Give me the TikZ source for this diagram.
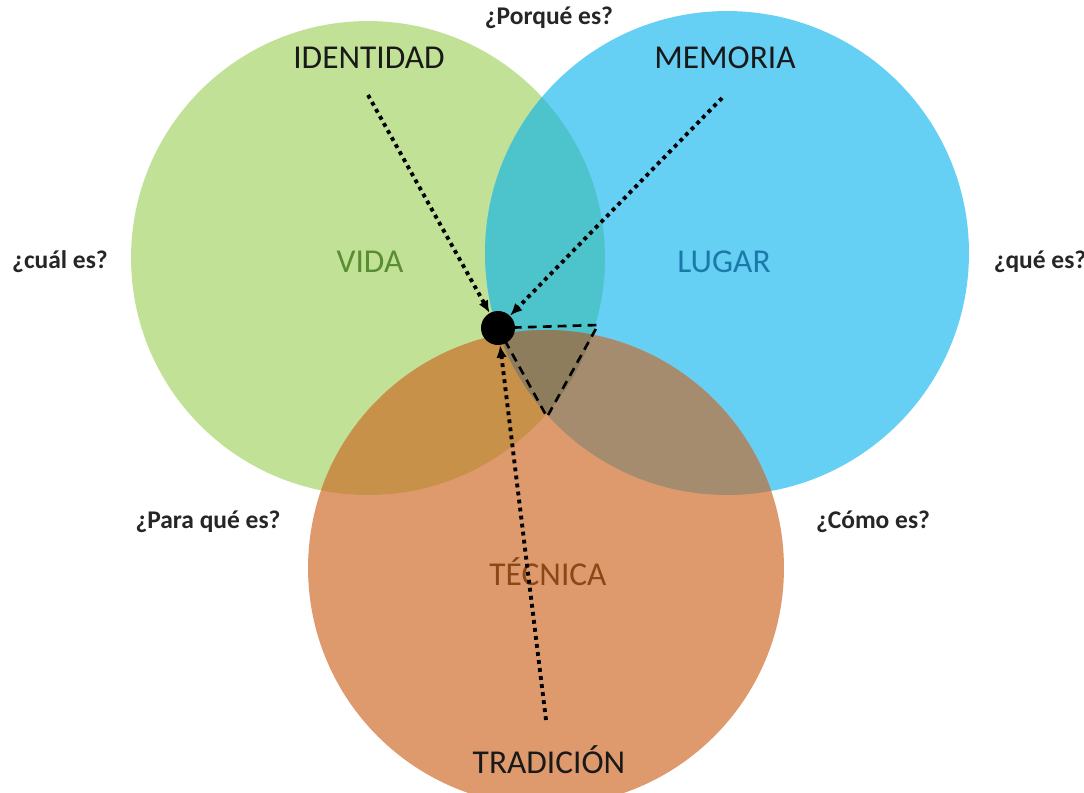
\documentclass[tikz,border=0pt]{standalone}
\usepackage{fontspec}
\setmainfont{Carlito}
\usetikzlibrary{arrows.meta}

\definecolor{vida}{HTML}{C1E196}
\definecolor{lugar}{HTML}{66CFF4}
\definecolor{tecnica}{HTML}{DE9A6C}
\definecolor{vidalugar}{HTML}{4DC3CC}
\definecolor{vidatecnica}{HTML}{C8914A}
\definecolor{lugartecnica}{HTML}{A58C6E}
\definecolor{triple}{HTML}{8E7D5C}
\definecolor{txtvida}{HTML}{5A8C32}
\definecolor{txtlugar}{HTML}{1B7AAA}
\definecolor{txttecnica}{HTML}{8A4816}

\begin{document}
\begin{tikzpicture}[
    x=0.02cm,
    y=-0.02cm,
    >={Latex[length=7pt,width=6pt]},
    tema/.style={font=\fontsize{19}{22}\selectfont, text=black!90},
    pregunta/.style={font=\fontsize{14.5}{17}\selectfont\bfseries, text=black!85},
    nombre/.style={font=\fontsize{19}{22}\selectfont},
    flecha/.style={->, line width=2.2pt, dash pattern=on 2.2pt off 2.4pt},
]

    \useasboundingbox (0,0) rectangle (1084,792);
    \fill[white] (0,0) rectangle (1084,792);

    % circulos
    \coordinate (cV) at (368,258);
    \coordinate (cL) at (727,253);
    \coordinate (cT) at (546,568);

    \fill[vida]    (cV) circle (4.74cm);
    \fill[lugar]   (cL) circle (4.84cm);
    \fill[tecnica] (cT) circle (4.76cm);

    \begin{scope}
        \clip (cV) circle (4.74cm);
        \fill[vidalugar]   (cL) circle (4.84cm);
        \fill[vidatecnica] (cT) circle (4.76cm);
    \end{scope}
    \begin{scope}
        \clip (cL) circle (4.84cm);
        \fill[lugartecnica] (cT) circle (4.76cm);
    \end{scope}
    \begin{scope}
        \clip (cV) circle (4.74cm);
        \clip (cL) circle (4.84cm);
        \fill[triple] (cT) circle (4.76cm);
    \end{scope}

    % textos
    \node[pregunta]                (porque) at (549,18)   {¿Porqué es?};
    \node[tema]                    (ident)  at (369,58)   {IDENTIDAD};
    \node[tema]                    (memo)   at (725,58)   {MEMORIA};
    \node[pregunta]                (cual)   at (60,262)   {¿cuál es?};
    \node[nombre, text=txtvida]    (vid)    at (370,262)  {VIDA};
    \node[nombre, text=txtlugar]   (lug)    at (724,262)  {LUGAR};
    \node[pregunta]                (que)    at (1040,262) {¿qué es?};
    \node[pregunta]                (para)   at (208,522)  {¿Para qué es?};
    \node[pregunta]                (como)   at (873,522)  {¿Cómo es?};
    \node[nombre, text=txttecnica] (tec)    at (548,572)  {TÉCNICA};
    \node[tema]                    (trad)   at (549,760)  {TRADICIÓN};

    % sector
    \coordinate (s1) at (598,325);
    \coordinate (s2) at (547,417);
    \draw[line width=1.5pt, dash pattern=on 5pt off 3.5pt] (498,328) -- (s1) -- (s2) -- cycle;

    \node[circle, fill=black, minimum size=0.68cm, inner sep=0pt] (dot) at (498,328) {};

    \coordinate (i0) at (368,95);
    \coordinate (m0) at (722,98);
    \coordinate (t0) at (546,720);

    \path[flecha]
        (i0) edge (dot)
        (m0) edge (dot)
        (t0) edge (dot)
    ;
\end{tikzpicture}
\end{document}
